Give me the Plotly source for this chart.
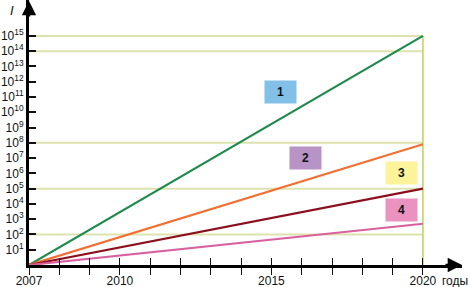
import plotly.graph_objects as go

years = [2007, 2020]
series_names = ["1", "2", "3", "4"]
series_values = [
    [1, 1e15],
    [1, 8e7],
    [1, 1e5],
    [1, 5e2],
]
series_colors = ["#1f8a4c", "#f07034", "#8c0f1e", "#d8609e"]

grid_levels = [1e15, 1e14, 1e8, 1e5, 1e2]
y_tick_exps = list(range(1, 16))
x_tick_years = list(range(2007, 2021))
x_labeled = [2007, 2010, 2015, 2020]

# label boxes: (text, year, log10 value)
box_labels = [("1", 2015.30, 11.33), ("2", 2016.12, 7.01), ("3", 2019.29, 6.02), ("4", 2019.29, 3.60)]
box_colors = ["#82c0e8", "#b793c6", "#fcf39b", "#ea93c0"]

fig = go.Figure()

for g in grid_levels:
    fig.add_trace(go.Scatter(x=[2007, 2020], y=[g, g], mode="lines",
                             line=dict(color="#dde3ae", width=2), showlegend=False, hoverinfo="skip"))
fig.add_trace(go.Scatter(x=[2020, 2020], y=[1, 1e15], mode="lines",
                         line=dict(color="#c2cf55", width=1.5), showlegend=False, hoverinfo="skip"))

for name, vals, col in zip(series_names, series_values, series_colors):
    fig.add_trace(go.Scatter(x=years, y=vals, mode="lines", name=name,
                             line=dict(color=col, width=2.2), showlegend=False))

fig.add_trace(go.Scatter(x=[2007], y=[1], xaxis="x2", yaxis="y2", mode="markers",
                         marker=dict(opacity=0), showlegend=False, hoverinfo="skip"))

for (txt, xv, yv), bc in zip(box_labels, box_colors):
    fig.add_annotation(x=xv, y=yv, yref="y", xref="x", text="<b>" + txt + "</b>", showarrow=False,
                       bgcolor=bc, width=31, height=22, font=dict(size=12, color="#111111"),
                       borderpad=0)

ymax = 17.35
xmax = 2021.29

fig.update_layout(
    width=470, height=287,
    margin=dict(l=29, r=8, t=0, b=22, autoexpand=False),
    paper_bgcolor="white", plot_bgcolor="white",
    font=dict(family="Liberation Sans, Arial, sans-serif", color="#111111"),
    xaxis=dict(range=[2007, xmax], showgrid=False, zeroline=False, automargin=False,
               showline=True, linewidth=3, linecolor="#000000",
               tickvals=x_tick_years, showticklabels=False,
               ticks="outside", ticklen=7, tickwidth=1.2, tickcolor="#111111"),
    yaxis=dict(type="log", range=[0, ymax], showgrid=False, zeroline=False, automargin=False,
               showline=True, linewidth=3, linecolor="#000000",
               tickvals=[10**e for e in y_tick_exps],
               ticktext=["10<sup>%d</sup>" % e for e in y_tick_exps],
               ticks="inside", ticklen=7, tickwidth=1.5, tickcolor="#111111",
               tickfont=dict(size=12)),
    xaxis2=dict(overlaying="x", anchor="y2", range=[2007, xmax], showgrid=False, zeroline=False,
                automargin=False, showline=False, tickvals=x_tick_years,
                ticktext=[str(y) if y in x_labeled else "" for y in x_tick_years],
                side="bottom", ticks="inside", ticklen=7, tickwidth=1.2, tickcolor="#111111",
                tickfont=dict(size=12), ticklabelstandoff=7),
    yaxis2=dict(overlaying="y", anchor="x2", type="log", range=[0, ymax], showgrid=False,
                automargin=False, zeroline=False, showline=False, showticklabels=False, ticks=""),
)

fig.add_annotation(x=1.0, y=0, xref="paper", yref="paper", ax=-18, ay=0,
                   showarrow=True, arrowhead=2, arrowsize=1.1, arrowwidth=2.6, arrowcolor="#000000", text="")
fig.add_annotation(x=0, y=1.0, xref="paper", yref="paper", ax=0, ay=18,
                   showarrow=True, arrowhead=2, arrowsize=1.1, arrowwidth=2.6, arrowcolor="#000000", text="")

fig.add_annotation(x=2020, y=0, xref="x", yref="paper", text="годы", showarrow=False,
                   xanchor="left", yanchor="middle", yshift=-16, xshift=17, font=dict(size=12))
fig.add_annotation(x=0, y=1.0, xref="paper", yref="paper", text="<i>I</i>", showarrow=False,
                   xanchor="right", yanchor="top", xshift=-13, yshift=-1, font=dict(size=13))

fig.write_html("out.html", post_script="document.body.style.margin='0';",
               config={"displayModeBar": False})
